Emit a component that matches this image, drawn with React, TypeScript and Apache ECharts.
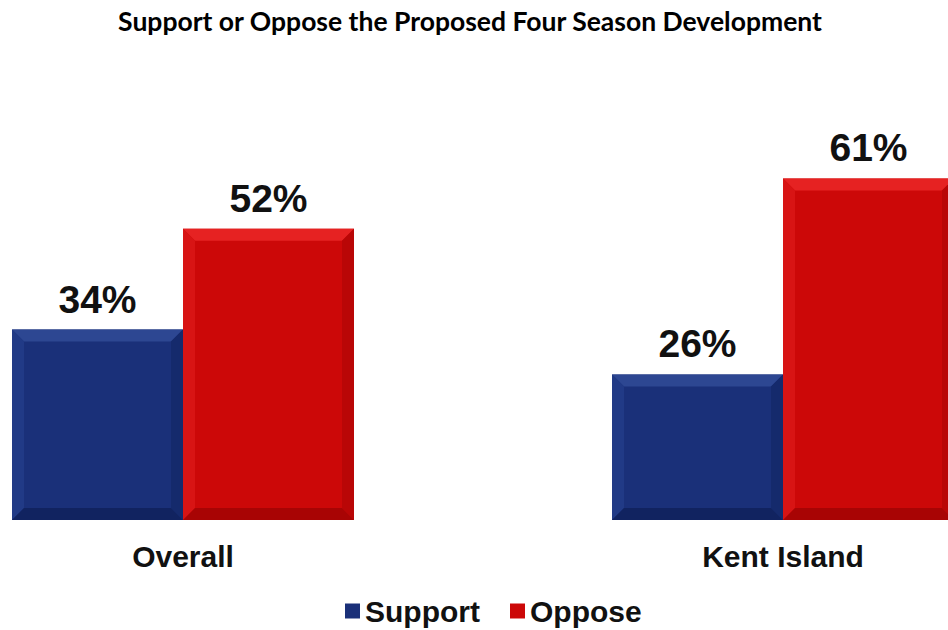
import React, { useEffect, useRef } from "react";
import * as echarts from "echarts";

const categories = ["Overall", "Kent Island"];
const supportValues = [34, 26];
const opposeValues = [52, 61];
const seriesNames = ["Support", "Oppose"];
const titleText = "Support or Oppose the Proposed Four Season Development";

const SHIFT = 117;
const BAR_W = 171;
const BEVEL = 12;

type Palette = { face: string; top: string; left: string; right: string; bottom: string };
const bluePal: Palette = { face: "#1a3079", top: "#2d4792", left: "#213a86", right: "#152a6c", bottom: "#112360" };
const redPal: Palette = { face: "#cc0808", top: "#e62222", left: "#d81414", right: "#b90606", bottom: "#a80404" };

function makeRender(offsetIndex: number, p: Palette) {
  return (params: any, api: any) => {
    const ci = api.value(0);
    const v = api.value(1);
    const top = api.coord([ci, v]);
    const base = api.coord([ci, 0]);
    const x0 = top[0] - BAR_W + offsetIndex * BAR_W;
    const x1 = x0 + BAR_W;
    const y0 = top[1];
    const y1 = base[1];
    const b = BEVEL;
    return {
      type: "group",
      children: [
        { type: "rect", shape: { x: x0, y: y0, width: BAR_W, height: y1 - y0 }, style: { fill: p.face } },
        { type: "polygon", shape: { points: [[x0, y0], [x1, y0], [x1 - b, y0 + b], [x0 + b, y0 + b]] }, style: { fill: p.top } },
        { type: "polygon", shape: { points: [[x0, y0], [x0 + b, y0 + b], [x0 + b, y1 - b], [x0, y1]] }, style: { fill: p.left } },
        { type: "polygon", shape: { points: [[x1, y0], [x1, y1], [x1 - b, y1 - b], [x1 - b, y0 + b]] }, style: { fill: p.right } },
        { type: "polygon", shape: { points: [[x0, y1], [x0 + b, y1 - b], [x1 - b, y1 - b], [x1, y1]] }, style: { fill: p.bottom } },
        {
          type: "text",
          x: (x0 + x1) / 2,
          y: y0 - 11,
          style: {
            text: v + "%",
            fill: "#111",
            font: "bold 39px 'Liberation Sans', Arial, sans-serif",
            textAlign: "center",
            textVerticalAlign: "bottom",
          },
        },
      ],
    };
  };
}

export default function App() {
  const ref = useRef<HTMLDivElement>(null);
  useEffect(() => {
    if (!ref.current) return;
    const chart = echarts.init(ref.current, null, { renderer: "svg" });
    chart.setOption({
      animation: false,
      backgroundColor: "#ffffff",
      graphic: [
        {
          type: "text",
          x: 470 + SHIFT,
          y: 7,
          style: {
            text: titleText,
            fill: "#000",
            font: "bold 26.5px Lato, 'Open Sans', sans-serif",
            textAlign: "center",
            textVerticalAlign: "top",
          },
        },
      ],
      legend: {
        top: 591,
        left: 340 + SHIFT,
        itemWidth: 15,
        itemHeight: 15,
        itemGap: 30,
        icon: "rect",
        textStyle: { fontSize: 30, fontWeight: "bold", color: "#111", fontFamily: "'Liberation Sans', Arial, sans-serif" },
        data: seriesNames,
      },
      grid: { left: 0, right: 0, top: 128, height: 392 },
      xAxis: {
        type: "category",
        data: categories,
        axisLine: { show: false },
        axisTick: { show: false },
        axisLabel: {
          fontSize: 30,
          fontWeight: "bold",
          color: "#111",
          margin: 21,
          fontFamily: "'Liberation Sans', Arial, sans-serif",
        },
      },
      yAxis: { type: "value", min: 0, max: 70, show: false, splitLine: { show: false } },
      series: [
        {
          name: seriesNames[0],
          type: "custom",
          itemStyle: { color: bluePal.face },
          renderItem: makeRender(0, bluePal),
          data: supportValues.map((v, i) => [i, v]),
        },
        {
          name: seriesNames[1],
          type: "custom",
          itemStyle: { color: redPal.face },
          renderItem: makeRender(1, redPal),
          data: opposeValues.map((v, i) => [i, v]),
        },
      ],
    });
    return () => chart.dispose();
  }, []);
  return (
    <div style={{ position: "fixed", left: 0, top: 0, width: 948, height: 630, overflow: "hidden", background: "#fff" }}>
      <div
        ref={ref}
        style={{ position: "absolute", left: -SHIFT, top: 0, width: 1200, height: 630 }}
      />
    </div>
  );
}
